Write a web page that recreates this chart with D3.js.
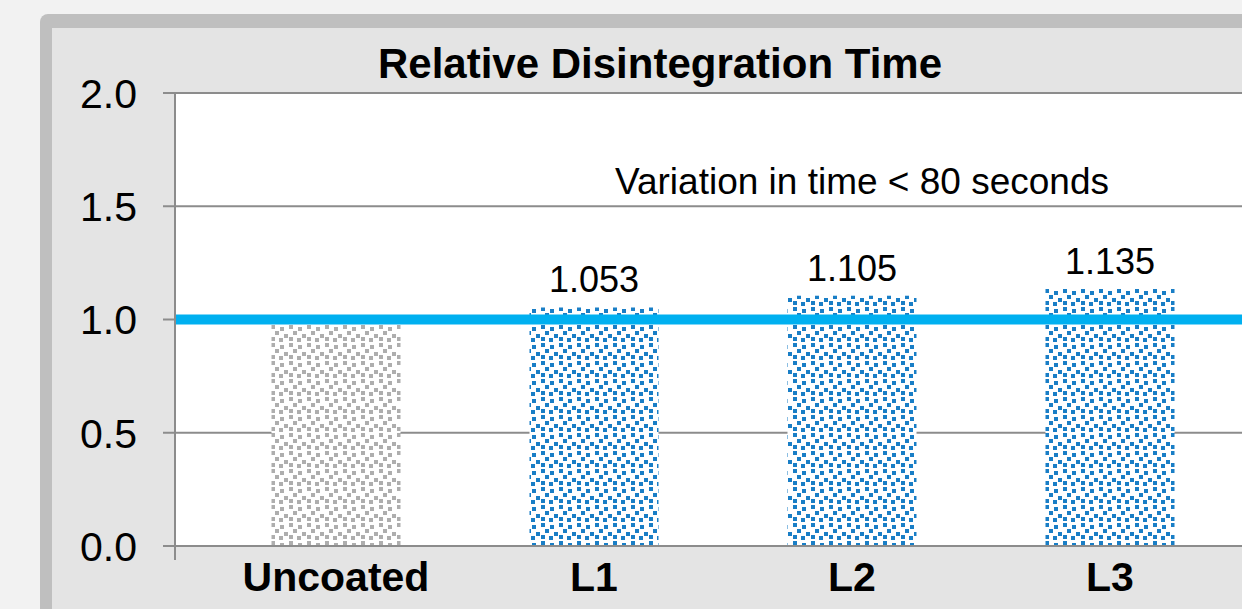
<!DOCTYPE html>
<html>
  <head>
    <script src="https://cdnjs.cloudflare.com/ajax/libs/d3/7.8.5/d3.min.js"></script>
    <style>
      body { margin: 0; background: #f2f2f2; }
      text { font-family: Arial, "Liberation Sans", sans-serif; }
    </style>
  </head>
  <body>
    <div id="vis"></div>
    <script type="text/javascript">

        // chart data
        const categories = ["Uncoated", "L1", "L2", "L3"];
        const values = [1.0, 1.053, 1.105, 1.135];
        const valueLabels = ["", "1.053", "1.105", "1.135"];
        const yTicks = [0.0, 0.5, 1.0, 1.5, 2.0];
        const refValue = 1.0;
        const title = "Relative Disintegration Time";
        const note = "Variation in time < 80 seconds";

        const W = 1242, H = 609;

        const svg = d3.select("#vis")
            .append("svg")
            .attr("width", W)
            .attr("height", H);

        // patterns for the bars (confetti look)
        const defs = svg.append("defs");
        function makePattern(id, color) {
            const p = defs.append("pattern")
                .attr("id", id)
                .attr("patternUnits", "userSpaceOnUse")
                .attr("width", 18)
                .attr("height", 18);
            p.append("rect").attr("width", 18).attr("height", 18).attr("fill", "#fff");
            [[1, 1], [10, 3], [5, 7], [14, 10], [1, 13], [9, 14]]
                .forEach(d => {
                    p.append("rect")
                        .attr("x", d[0]).attr("y", d[1])
                        .attr("width", 4).attr("height", 4)
                        .attr("fill", color)
                        .attr("opacity", 0.9);
                });
        }
        makePattern("patGray", "#a6a6a6");
        makePattern("patBlue", "#0070c0");

        // panel frame
        svg.append("rect")
            .attr("x", 40).attr("y", 14)
            .attr("width", 1300).attr("height", 700)
            .attr("rx", 8)
            .attr("fill", "#bfbfbf");
        svg.append("rect")
            .attr("x", 52).attr("y", 28)
            .attr("width", 1300).attr("height", 700)
            .attr("fill", "#e4e4e4");

        const plot = { left: 175, top: 93, bottom: 546, right: 1260 };

        const y = d3.scaleLinear()
            .domain([0, 2])
            .range([plot.bottom, plot.top]);

        const x = d3.scaleBand()
            .domain(categories)
            .range([207, 1239])
            .paddingInner(0.5)
            .paddingOuter(0.25);

        // white plot area
        svg.append("rect")
            .attr("x", plot.left).attr("y", plot.top)
            .attr("width", plot.right - plot.left)
            .attr("height", plot.bottom - plot.top)
            .attr("fill", "#fff");

        // gridlines + ticks
        svg.append("g")
            .selectAll("line")
            .data(yTicks)
            .join("line")
            .attr("x1", plot.left - 12)
            .attr("x2", plot.right)
            .attr("y1", d => y(d))
            .attr("y2", d => y(d))
            .attr("stroke", "#8c8c8c")
            .attr("stroke-width", 2);

        svg.append("g")
            .selectAll("text")
            .data(yTicks)
            .join("text")
            .attr("x", 137)
            .attr("y", d => y(d))
            .attr("dy", "0.36em")
            .attr("text-anchor", "end")
            .attr("font-size", 41)
            .attr("fill", "#000")
            .text(d => d.toFixed(1));

        // y axis line
        svg.append("line")
            .attr("x1", plot.left).attr("x2", plot.left)
            .attr("y1", plot.top).attr("y2", plot.bottom + 14)
            .attr("stroke", "#8c8c8c")
            .attr("stroke-width", 2);

        // bars
        svg.append("g")
            .selectAll("rect")
            .data(values)
            .join("rect")
            .attr("x", (d, i) => x(categories[i]))
            .attr("width", x.bandwidth())
            .attr("y", d => y(d))
            .attr("height", d => y(0) - y(d))
            .attr("fill", (d, i) => i === 0 ? "url(#patGray)" : "url(#patBlue)");

        // redraw baseline on top of bars
        svg.append("line")
            .attr("x1", plot.left).attr("x2", plot.right)
            .attr("y1", y(0)).attr("y2", y(0))
            .attr("stroke", "#8c8c8c")
            .attr("stroke-width", 2);

        // reference line
        svg.append("line")
            .attr("x1", plot.left + 1).attr("x2", plot.right)
            .attr("y1", y(refValue)).attr("y2", y(refValue))
            .attr("stroke", "#00b0f0")
            .attr("stroke-width", 10);

        // value labels
        svg.append("g")
            .selectAll("text")
            .data(values)
            .join("text")
            .attr("x", (d, i) => x(categories[i]) + x.bandwidth() / 2)
            .attr("y", d => y(d) - 15)
            .attr("text-anchor", "middle")
            .attr("font-size", 36)
            .text((d, i) => valueLabels[i]);

        // category labels
        svg.append("g")
            .selectAll("text")
            .data(categories)
            .join("text")
            .attr("x", d => x(d) + x.bandwidth() / 2)
            .attr("y", 591)
            .attr("text-anchor", "middle")
            .attr("font-size", 41)
            .attr("font-weight", "bold")
            .text(d => d);

        // title
        svg.append("text")
            .attr("x", 660)
            .attr("y", 78)
            .attr("text-anchor", "middle")
            .attr("font-size", 42)
            .attr("font-weight", "bold")
            .text(title);

        // note
        svg.append("text")
            .attr("x", 862)
            .attr("y", 194)
            .attr("text-anchor", "middle")
            .attr("font-size", 37)
            .text(note);

    </script>
  </body>
</html>
